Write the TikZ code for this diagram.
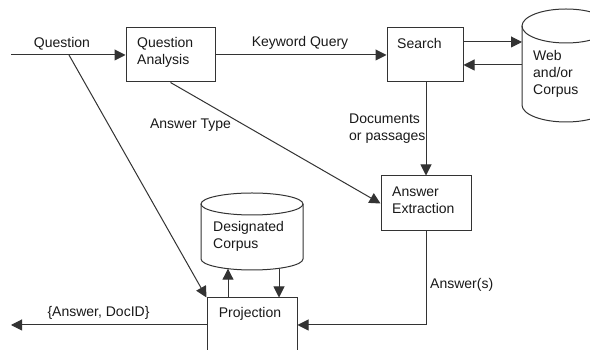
\documentclass[tikz,border=0pt]{standalone}
\usepackage{fontspec}
\setmainfont{Liberation Sans}
\usetikzlibrary{arrows.meta}
\begin{document}
\begin{tikzpicture}[x=1pt,y=1pt,
  font=\fontsize{14}{17}\selectfont,
  line/.style={draw=black!80,line width=1pt},
  arr/.style={line,-{Triangle[length=11pt,width=11pt]}},
  procbox/.style={draw=black!80,line width=1pt,rectangle,inner sep=0pt},
  lbl/.style={inner sep=0pt,align=left,text=black!90}]
\useasboundingbox (0,0) rectangle (590,350);
\clip (0,0) rectangle (590,350);
\fill[white] (0,0) rectangle (590,350);
% boxes
\node[procbox,minimum width=89pt,minimum height=54pt] (qa) at (170.5,295) {};
\node[procbox,minimum width=76pt,minimum height=54pt] (search) at (425,295) {};
\node[procbox,minimum width=90pt,minimum height=55pt] (ae) at (426,146.5) {};
\node[procbox,minimum width=90pt,minimum height=80pt] (proj) at (252,12) {};
% box texts
\node[lbl,anchor=west] (qat) at (137,297.5) {Question\\Analysis};
\node[lbl,anchor=west] (st) at (397,306) {Search};
\node[lbl,anchor=west] (aet) at (392,149.5) {Answer\\Extraction};
\node[lbl] (pt) at (250,36) {Projection};
% web cylinder
\draw[line] (522,324) -- (522,245) arc[start angle=180,end angle=360,x radius=44,y radius=17] -- (610,324);
\draw[line] (566,324) ellipse[x radius=44,y radius=17];
\node[lbl,anchor=west] (webt) at (533,276) {Web\\and/or\\Corpus};
\coordinate (webA) at (522,308);
\coordinate (webB) at (522,285);
% designated corpus cylinder
\draw[line] (201,146) -- (201,91) arc[start angle=180,end angle=360,x radius=51,y radius=11] -- (303,146);
\draw[line] (252,146) ellipse[x radius=51,y radius=11];
\node[lbl,anchor=west] (dct) at (213,114) {Designated\\Corpus};
\coordinate (dcA) at (228,81.3);
\coordinate (dcB) at (279,81.3);
% input / output
\coordinate (qin) at (11,295);
\coordinate (qsplit) at (69,295);
\coordinate (aout) at (11,25);
\coordinate (ansc) at (426,25);
% connectors
\draw[arr] (qin) -- (qa.west);
\draw[arr] (qa.east) -- (search.west);
\draw[arr] (search.east |- webA) -- (webA);
\draw[arr] (webB) -- (search.east |- webB);
\draw[arr] (search.south -| ae.north) -- (ae.north);
\draw[arr] (qa.south) -- (ae.west);
\draw[arr] (qsplit) -- (proj.north west);
\draw[arr] (ae.south) -- (ansc) -- (proj.east |- ansc);
\draw[arr] (proj.west |- aout) -- (aout);
\draw[arr] (proj.north -| dcA) -- (dcA);
\draw[arr] (dcB) -- (proj.north -| dcB);
% labels
\node[lbl] (lq) at (62,306) {Question};
\node[lbl] (lkq) at (300,307) {Keyword Query};
\node[lbl] (lat) at (190.5,225) {Answer Type};
\node[lbl,anchor=west] (ldp) at (349,221) {Documents\\or passages};
\node[lbl,anchor=west] (las) at (430,65) {Answer(s)};
\node[lbl] (lad) at (98.5,37) {\{Answer, DocID\}};
\end{tikzpicture}
\end{document}
